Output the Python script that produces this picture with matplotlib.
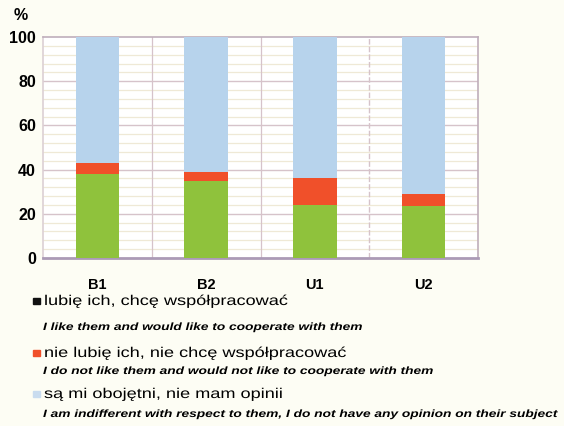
import matplotlib
matplotlib.use("Agg")
import matplotlib.pyplot as plt
from matplotlib import patheffects
from matplotlib.patches import Rectangle
from matplotlib.transforms import Affine2D
import numpy as np

# Data
groups = ["B1", "B2", "U1", "U2"]
like = [38, 35, 24, 23.5]
dislike = [5, 4, 12, 5.5]
indifferent = [57, 61, 64, 71]
yticks = [0, 20, 40, 60, 80, 100]

labels_pl = ["lubię ich, chcę współpracować",
             "nie lubię ich, nie chcę współpracować",
             "są mi obojętni, nie mam opinii"]
labels_en = ["I like them and would like to cooperate with them",
             "I do not like them and would not like to cooperate with them",
             "I am indifferent with respect to them, I do not have any opinion on their subject"]

c_green = "#8fc23c"
c_red = "#f0502a"
c_blue = "#b7d3ec"
c_grid_major = "#d6c3ca"
c_grid_minor = "#efe9d6"
c_frame = "#bfaebb"

plt.rcParams["font.family"] = ["Liberation Sans", "DejaVu Sans"]


class WideText(patheffects.AbstractPathEffect):
    """Draw text glyphs widened horizontally about a fixed x (pixels)."""

    def __init__(self, sx, x0):
        super().__init__()
        self._sx = sx
        self._x0 = x0

    def draw_path(self, renderer, gc, tpath, affine, rgbFace=None):
        widen = (Affine2D().translate(-self._x0, 0)
                 .scale(self._sx, 1).translate(self._x0, 0))
        renderer.draw_path(gc, tpath, affine + widen, rgbFace)


W, H = 564, 426
DPI = 100
fig = plt.figure(figsize=(W / DPI, H / DPI), dpi=DPI)
fig.patch.set_facecolor("#fdfdf4")

ax = fig.add_axes([43 / W, 1 - 258 / H, 435 / W, 221 / H])
ax.set_facecolor("white")

x = np.arange(len(groups))
bw = 0.4
ax.bar(x, like, bw, color=c_green, zorder=3)
ax.bar(x, dislike, bw, bottom=like, color=c_red, zorder=3)
bottom2 = np.array(like) + np.array(dislike)
ax.bar(x, indifferent, bw, bottom=bottom2, color=c_blue, zorder=3)

ax.set_xlim(-0.5, len(groups) - 0.5)
ax.set_ylim(0, 100)

# grid: fine lines every 4, stronger every 20, vertical separators between groups
for v in np.arange(4, 100, 4):
    if v % 20:
        ax.axhline(v, color=c_grid_minor, lw=0.9, zorder=1)
for v in yticks[1:-1]:
    ax.axhline(v, color=c_grid_major, lw=1.0, zorder=2)
for xv in [0.5, 1.5]:
    ax.axvline(xv, color=c_grid_major, lw=0.9, zorder=2)
ax.axvline(2.5, color=c_grid_major, lw=1.0, ls=(0, (4, 1.5)), zorder=2)

for side in ["left", "right", "top"]:
    ax.spines[side].set_color(c_frame)
    ax.spines[side].set_linewidth(1.2)
ax.spines["bottom"].set_color("#ab9ab6")
ax.spines["bottom"].set_linewidth(2)
ax.spines["left"].set_color("#dcd0d4")

ax.set_yticks(yticks)
ax.set_yticklabels([str(v) for v in yticks], fontsize=11.5, fontweight="bold")
ax.set_xticks(x)
ax.set_xticklabels(groups, fontsize=10.5, fontweight="bold")
ax.tick_params(axis="both", length=0)
ax.tick_params(axis="y", pad=5)
ax.tick_params(axis="x", pad=14.5)

fig.text(21 / W, 1 - 15 / H, "%", fontsize=11.5, fontweight="bold",
         ha="center", va="center")

# legend block: swatch, Polish label, English translation underneath
swatches = ["#111111", c_red, "#c9dcef"]
pl_base = [305, 357, 398]
en_base = [330, 374, 417]
x_pl, x_en = 44, 43
for col, pb, eb, lp, le in zip(swatches, pl_base, en_base, labels_pl, labels_en):
    fig.patches.append(Rectangle((33 / W, 1 - (pb - 1) / H), 6.5 / W, 6.5 / H,
                                 transform=fig.transFigure, color=col,
                                 figure=fig))
    fig.text(x_pl / W, 1 - pb / H, lp, fontsize=10.2, ha="left",
             va="baseline",
             path_effects=[WideText(1.28, x_pl * fig.dpi / DPI)])
    fig.text(x_en / W, 1 - eb / H, le, fontsize=7.6, fontstyle="italic",
             fontweight="bold", ha="left", va="baseline",
             path_effects=[WideText(1.30, x_en * fig.dpi / DPI)])

fig.savefig("out.png", dpi=DPI, facecolor=fig.get_facecolor())
